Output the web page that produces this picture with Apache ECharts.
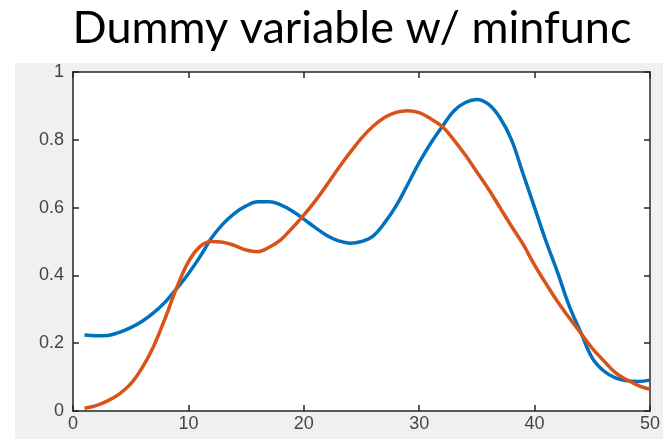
<!DOCTYPE html>
<html>
<head>
<meta charset="utf-8">
<script src="https://cdn.jsdelivr.net/npm/echarts@6/dist/echarts.min.js"></script>
<style>
html,body{margin:0;padding:0;background:#ffffff;}
#chart{width:663px;height:439px;}
</style>
</head>
<body>
<div id="chart"></div>
<script>
const titleText = "Dummy variable w/ minfunc";
const xValues = [1,2,3,4,5,6,7,8,9,10,11,12,13,14,15,16,17,18,19,20,21,22,23,24,25,26,27,28,29,30,31,32,33,34,35,36,37,38,39,40,41,42,43,44,45,46,47,48,49,50];
const blueValues = [0.224,0.222,0.223,0.232,0.246,0.265,0.29,0.322,0.362,0.405,0.455,0.51,0.552,0.583,0.605,0.617,0.617,0.608,0.59,0.566,0.541,0.518,0.502,0.495,0.5,0.516,0.555,0.605,0.668,0.733,0.79,0.839,0.885,0.91,0.919,0.905,0.865,0.8,0.7,0.6,0.5,0.408,0.31,0.232,0.156,0.118,0.098,0.089,0.087,0.091];
const orangeValues = [0.008,0.016,0.03,0.05,0.08,0.128,0.192,0.275,0.365,0.44,0.485,0.5,0.498,0.488,0.475,0.47,0.483,0.505,0.54,0.578,0.62,0.667,0.716,0.762,0.805,0.84,0.866,0.881,0.886,0.88,0.862,0.839,0.8,0.755,0.705,0.655,0.6,0.545,0.492,0.43,0.375,0.322,0.275,0.23,0.185,0.148,0.113,0.092,0.075,0.064];
const yTickLabels = ["0","0.2","0.4","0.6","0.8","1"];

const chart = echarts.init(document.getElementById('chart'), null, {renderer:'canvas'});
const axisColor = '#262626';
const labelColor = '#444444';
const font = 'Liberation Sans';
function pairs(vals){ return xValues.map((x,i)=>[x, vals[i]]); }
function lineCfg(){ return {show:true, onZero:false, lineStyle:{color:axisColor, width:1.5}}; }
function tickCfg(){ return {show:true, inside:true, length:6, lineStyle:{color:axisColor, width:1.5}}; }
chart.setOption({
  animation:false,
  backgroundColor:'#f0f0f0',
  graphic:[
    {type:'rect', z:-10, shape:{x:0,y:0,width:663,height:63}, style:{fill:'#ffffff'}, silent:true},
    {type:'rect', z:-10, shape:{x:0,y:0,width:15,height:439}, style:{fill:'#ffffff'}, silent:true},
    {type:'rect', z:-9, shape:{x:73,y:72,width:578,height:339}, style:{fill:'#ffffff'}, silent:true}
  ],
  title:{
    text:titleText, left:347, top:1, textAlign:'center',
    textStyle:{fontFamily:'Lato', fontSize:45, fontWeight:'normal', color:'#000000'}
  },
  grid:{left:73, right:12, top:72, bottom:28},
  xAxis:[
    {type:'value', min:0, max:50, interval:10, position:'bottom',
     axisLine:lineCfg(), axisTick:tickCfg(),
     axisLabel:{show:true, color:labelColor, fontSize:18, fontFamily:font, margin:4},
     splitLine:{show:false}},
    {type:'value', min:0, max:50, interval:10, position:'top',
     axisLine:lineCfg(), axisTick:tickCfg(),
     axisLabel:{show:false}, splitLine:{show:false}}
  ],
  yAxis:[
    {type:'value', min:0, max:1, interval:0.2, position:'left',
     axisLine:lineCfg(), axisTick:tickCfg(),
     axisLabel:{show:true, color:labelColor, fontSize:18, fontFamily:font, margin:9,
       formatter:(v)=>yTickLabels[Math.round(v/0.2)]},
     splitLine:{show:false}},
    {type:'value', min:0, max:1, interval:0.2, position:'right',
     axisLine:lineCfg(), axisTick:tickCfg(),
     axisLabel:{show:false}, splitLine:{show:false}}
  ],
  series:[
    {type:'line', data:pairs(blueValues), smooth:0.4, showSymbol:false, lineStyle:{color:'#0072BD', width:3.5}, z:3},
    {type:'line', data:pairs(orangeValues), smooth:0.4, showSymbol:false, lineStyle:{color:'#D95319', width:3.5}, z:4}
  ]
});
</script>
</body>
</html>
